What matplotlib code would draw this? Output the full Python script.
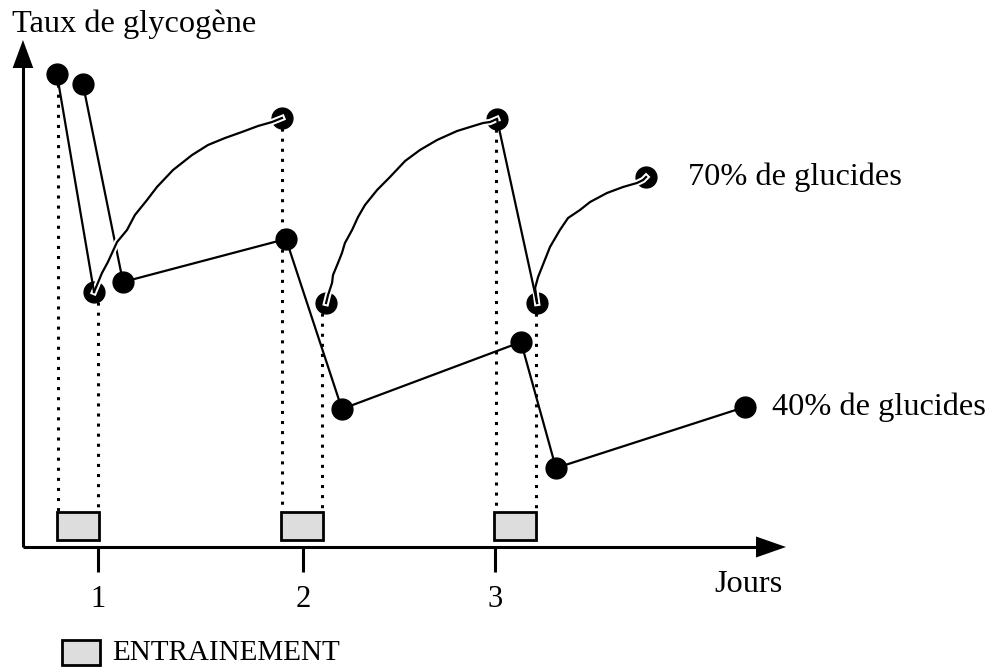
import matplotlib
matplotlib.use("Agg")
import matplotlib.pyplot as plt
from matplotlib.patches import Rectangle
import matplotlib.patheffects as pe

plt.rcParams['font.family'] = ['Liberation Serif', 'DejaVu Serif']

# ---------------- data (x in days, y in arbitrary glycogen units) ----------------
# 70% carbohydrate diet: sharp drops during training, recovery curves afterwards
drop70_1_x = [0.793, 0.980]
drop70_1_y = [9.46, 5.10]
curve70_1_x = [0.980, 0.995, 1.020, 1.050, 1.096, 1.146, 1.186, 1.247, 1.297,
               1.378, 1.474, 1.554, 1.640, 1.725, 1.806, 1.877, 1.927]
curve70_1_y = [5.10, 5.24, 5.48, 5.70, 6.10, 6.34, 6.64, 6.94, 7.20,
               7.54, 7.84, 8.04, 8.18, 8.30, 8.42, 8.50, 8.58]
curve70_2_x = [2.149, 2.159, 2.179, 2.184, 2.209, 2.229, 2.244, 2.280, 2.310, 2.345,
               2.406, 2.471, 2.547, 2.622, 2.708, 2.809, 2.874, 2.940, 2.975, 3.010]
curve70_2_y = [4.88, 5.04, 5.28, 5.44, 5.68, 5.88, 6.08, 6.34, 6.60, 6.84,
               7.14, 7.40, 7.72, 7.94, 8.14, 8.32, 8.40, 8.48, 8.50, 8.56]
drop70_2_x = [3.010, 3.212]
drop70_2_y = [8.56, 4.88]
curve70_3_x = [3.212, 3.202, 3.217, 3.237, 3.277, 3.327, 3.368, 3.428, 3.479,
               3.564, 3.645, 3.715, 3.746, 3.761]
curve70_3_y = [4.88, 5.18, 5.40, 5.60, 6.00, 6.34, 6.58, 6.74, 6.90,
               7.08, 7.20, 7.28, 7.34, 7.40]
dots70_x = [0.793, 0.980, 1.927, 2.149, 3.010, 3.212, 3.761]
dots70_y = [9.46, 5.10, 8.58, 4.88, 8.56, 4.88, 7.40]

# 40% carbohydrate diet
s40_x = [0.924, 1.126, 1.947, 2.229, 3.131, 3.307, 4.259]
s40_y = [9.26, 5.30, 6.16, 2.76, 4.10, 1.58, 2.80]

# training periods (dotted guides from the 70% points, grey boxes on the axis)
guide_x = [0.798, 1.000, 1.927, 2.128, 3.005, 3.207]
guide_top = [9.46, 5.10, 8.58, 4.88, 8.56, 4.88]
box_left = [0.793, 1.922, 2.995]
box_right = [1.005, 2.134, 3.207]
box_bottom = 0.14
box_top = 0.70

tick_pos = [1.0, 2.033, 3.0]
tick_labels = ['1', '2', '3']

# ---------------- figure ----------------
fig = plt.figure(figsize=(9.87, 6.67), dpi=100)
ax = fig.add_axes([0, 0, 1, 1])
ax.set_xlim(0.5063, 5.4786)
ax.set_ylim(-2.40, 10.94)
ax.axis('off')

AX_LW = 2.2
LINE_LW = 1.6
x0, y0 = 0.622, 0.0
x_end, y_end = 4.466, 10.14

# axes lines
ax.plot([x0, 4.33], [y0, y0], color='black', lw=AX_LW, solid_capstyle='butt', zorder=2)
ax.plot([x0, x0], [y0, 9.6], color='black', lw=AX_LW, solid_capstyle='butt', zorder=2)
# arrow heads
ax.fill([4.315, x_end, 4.315], [y0 + 0.21, y0, y0 - 0.21], color='black', lw=0, zorder=2)
ax.fill([x0 - 0.052, x0, x0 + 0.052], [9.58, y_end, 9.58], color='black', lw=0, zorder=2)

# ticks and tick labels
for tp, tl in zip(tick_pos, tick_labels):
    ax.plot([tp, tp], [y0, -0.5], color='black', lw=AX_LW, solid_capstyle='butt', zorder=2)
    ax.text(tp, -1.2, tl, ha='center', va='baseline', fontsize=22)

# dotted guides
for gx, gt in zip(guide_x, guide_top):
    ax.plot([gx, gx], [gt, box_top], color='black', lw=2.2,
            linestyle=(0, (1, 2.3)), dash_capstyle='butt', zorder=1)

# training boxes
for bl, br in zip(box_left, box_right):
    ax.add_patch(Rectangle((bl, box_bottom), br - bl, box_top - box_bottom,
                           facecolor='#dddddd', edgecolor='black', lw=2.0, zorder=3))

# 40% series
ax.plot(s40_x, s40_y, color='black', lw=LINE_LW, zorder=4)
ax.plot(s40_x, s40_y, 'o', color='black', ms=15, zorder=5)

# 70% series
ax.plot(dots70_x, dots70_y, 'o', color='black', ms=15, zorder=5)
halo = [pe.Stroke(linewidth=4.5, foreground='white'), pe.Normal()]
for cx, cy in [(curve70_1_x, curve70_1_y), (curve70_2_x, curve70_2_y),
               (curve70_3_x, curve70_3_y)]:
    ax.plot(cx, cy, color='black', lw=LINE_LW, zorder=6,
            solid_joinstyle='round', path_effects=halo)
ax.plot(drop70_1_x, drop70_1_y, color='black', lw=LINE_LW, zorder=7)
ax.plot(drop70_2_x, drop70_2_y, color='black', lw=LINE_LW, zorder=7)

# texts
ax.text(0.567, 10.30, 'Taux de glycogène', ha='left', va='baseline', fontsize=23.3)
ax.text(3.972, 7.24, '70% de glucides', ha='left', va='baseline', fontsize=23.3)
ax.text(4.395, 2.64, '40% de glucides', ha='left', va='baseline', fontsize=23.3)
ax.text(4.103, -0.90, 'Jours', ha='left', va='baseline', fontsize=23.3)

# legend
ax.add_patch(Rectangle((0.819, -2.36), 1.010 - 0.819, 0.50,
                       facecolor='#dddddd', edgecolor='black', lw=2.0, zorder=3))
ax.text(1.0705, -2.385, 'ENTRAINEMENT', ha='left', va='bottom', fontsize=21)

fig.savefig('out.png', dpi=100)
